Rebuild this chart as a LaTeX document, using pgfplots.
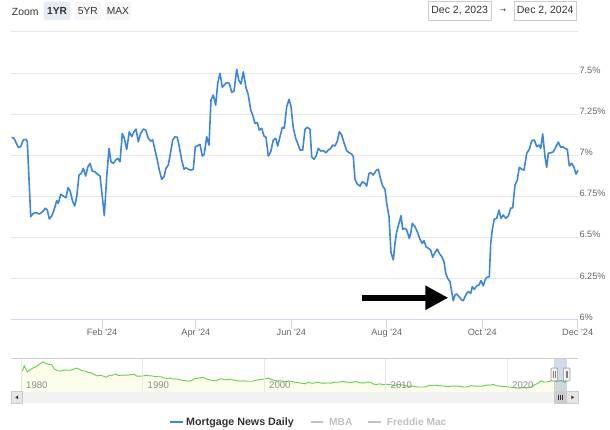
\documentclass[border=0pt]{standalone}
\usepackage{pgfplots}
\pgfplotsset{compat=1.18}
\usepackage{fontspec}
\setmainfont{Liberation Sans}
\newfontfamily\dejavu{DejaVu Sans}
\usetikzlibrary{arrows.meta}
\definecolor{mnd}{RGB}{59,134,226}
\definecolor{gridc}{RGB}{230,230,230}
\definecolor{axisc}{RGB}{204,214,235}
\definecolor{labc}{RGB}{102,102,102}
\definecolor{darkt}{RGB}{51,51,51}
\definecolor{navline}{RGB}{95,210,75}
\definecolor{navfill}{RGB}{251,252,234}
\definecolor{navlab}{RGB}{140,140,140}
\definecolor{selbtn}{RGB}{230,235,245}
\definecolor{btn}{RGB}{247,247,247}
\definecolor{boxc}{RGB}{204,204,204}
\definecolor{maskc}{RGB}{102,133,194}
\definecolor{sbtrack}{RGB}{242,242,242}
\definecolor{sbbtn}{RGB}{230,230,230}
\definecolor{hidden}{RGB}{192,192,192}

\begin{document}
\begin{tikzpicture}[x=1pt,y=1pt]
\useasboundingbox (0,0) rectangle (610,430);
\fill[white] (0,0) rectangle (610,430);

% ---------- main chart ----------
\begin{axis}[
  at={(11pt,110pt)}, anchor=south west,
  scale only axis, width=567.3pt, height=288pt,
  xmin=2.8, xmax=365.4, ymin=6, ymax=7.75,
  axis x line*=bottom, axis y line*=right,
  x axis line style={-, draw=axisc, line width=1pt},
  y axis line style={draw=none},
  xtick={61,121,182,243,304,365},
  xticklabels={Feb \textquotesingle 24,Apr \textquotesingle 24,Jun \textquotesingle 24,Aug \textquotesingle 24,Oct \textquotesingle 24,Dec \textquotesingle 24},
  xtick style={draw=axisc, line width=1pt},
  ytick style={draw=none},
  tick align=outside,
  major tick length=9pt,
  ytick={6,6.25,6.5,6.75,7,7.25,7.5,7.75},
  yticklabels={6\%,6.25\%,6.5\%,6.75\%,7\%,7.25\%,7.5\%,{}},
  ymajorgrids, grid style={draw=gridc, line width=1pt},
  xticklabel style={anchor=north, inner sep=0pt, text=labc, font=\fontsize{9.2}{10}\selectfont},
  yticklabel style={anchor=west, inner sep=0pt, xshift=-8pt, yshift=3pt, text=labc, font=\fontsize{9.2}{10}\selectfont},
]
\addplot[mnd, line width=1.6pt, line join=round] table {
3.26 7.110
4.73 7.104
7.48 7.049
9.01 7.053
10.67 7.094
12.40 7.098
13.23 7.083
15.40 6.628
17.07 6.648
18.79 6.652
20.90 6.644
23.07 6.658
24.73 6.679
26.01 6.668
27.29 6.614
28.83 6.632
30.30 6.668
32.02 6.725
33.04 6.709
34.58 6.764
36.24 6.753
37.97 6.743
39.24 6.804
40.52 6.786
42.25 6.719
43.53 6.693
44.80 6.749
46.27 6.881
47.74 6.891
49.02 6.922
50.56 6.875
51.83 6.928
53.30 6.952
54.77 6.905
56.50 6.901
57.97 6.887
59.70 6.875
61.17 6.749
62.44 6.634
63.98 6.871
65.45 7.043
66.73 6.962
68.20 6.952
69.73 6.972
71.01 6.982
72.48 6.962
73.95 7.134
75.23 7.104
76.76 7.037
78.42 7.144
79.96 7.114
81.43 7.144
82.70 7.160
84.17 7.083
85.71 7.134
87.37 7.160
88.90 7.154
90.57 7.104
92.10 7.087
93.38 7.094
94.85 7.033
96.32 6.972
97.60 6.911
99.13 6.855
100.60 6.871
101.88 6.922
103.35 6.942
104.88 7.022
106.16 7.094
107.63 7.114
109.10 7.110
110.38 7.053
111.91 6.972
113.38 6.916
114.66 6.925
116.13 6.916
117.67 6.911
119.33 6.916
120.61 7.053
122.14 7.059
123.61 7.067
125.08 6.996
126.36 7.008
127.89 7.114
129.36 7.063
130.64 7.337
132.11 7.367
133.64 7.306
134.92 7.438
136.39 7.499
137.86 7.414
139.14 7.428
140.67 7.442
142.34 7.438
143.87 7.383
145.34 7.391
147.07 7.523
148.35 7.458
149.82 7.434
151.29 7.508
153.01 7.411
154.48 7.367
156.01 7.276
157.29 7.245
158.76 7.195
160.23 7.199
161.51 7.154
163.04 7.165
164.51 7.118
165.79 7.110
167.26 6.996
168.80 7.022
170.46 7.094
171.99 7.104
173.27 7.057
174.74 7.114
176.21 7.171
177.49 7.165
179.03 7.296
180.50 7.341
181.78 7.296
183.24 7.165
184.78 7.104
186.44 7.063
187.53 7.033
189.25 7.033
190.72 7.159
192.19 7.171
193.92 7.159
195.00 6.992
196.47 6.976
197.75 6.996
199.22 7.043
200.75 7.027
202.41 7.029
204.14 7.016
205.61 7.033
207.14 7.043
208.42 7.063
209.89 7.057
211.36 7.087
212.64 7.144
214.17 7.124
215.64 7.077
217.37 7.029
219.03 7.016
220.57 7.008
221.59 6.992
222.68 6.855
224.15 6.826
225.87 6.814
227.34 6.840
229.07 6.830
230.15 6.814
231.62 6.891
232.90 6.895
234.37 6.881
236.10 6.907
237.57 6.916
239.10 6.855
240.38 6.814
241.85 6.794
242.94 6.709
244.41 6.628
245.69 6.409
247.16 6.365
248.24 6.466
249.33 6.536
250.80 6.587
252.08 6.634
253.17 6.551
254.64 6.557
255.73 6.547
257.39 6.496
258.47 6.536
259.30 6.587
261.03 6.567
262.50 6.536
264.22 6.490
265.69 6.466
266.78 6.482
268.06 6.445
269.53 6.436
271.06 6.425
272.34 6.381
273.81 6.409
275.28 6.431
276.56 6.405
278.09 6.385
279.56 6.354
280.65 6.284
281.93 6.253
283.40 6.233
284.48 6.172
285.51 6.117
286.60 6.152
287.68 6.158
289.15 6.142
290.88 6.122
291.90 6.117
292.99 6.142
294.08 6.162
295.10 6.172
296.63 6.162
297.65 6.202
298.93 6.187
300.47 6.207
301.94 6.213
303.22 6.239
304.69 6.207
305.77 6.243
306.86 6.259
308.52 6.263
309.41 6.466
310.44 6.551
311.71 6.612
313.25 6.618
314.72 6.668
316.00 6.618
317.47 6.638
319.00 6.618
320.66 6.632
322.20 6.679
323.47 6.682
324.94 6.820
326.41 6.851
327.69 6.928
329.23 6.916
330.70 6.911
332.42 7.013
334.08 7.037
335.62 7.089
337.28 7.094
338.82 7.053
340.29 7.063
341.37 7.043
342.65 7.130
344.12 6.992
345.21 6.928
346.23 7.013
347.76 7.016
349.42 7.022
351.15 7.053
352.62 7.081
354.15 7.049
355.43 7.053
356.90 7.043
358.37 7.037
359.65 6.936
361.18 6.952
362.65 6.928
363.93 6.887
365.40 6.911
};
\draw[black, line width=6pt, -{Triangle[length=23pt,width=23pt]}] (axis cs:227.15,6.135) -- (axis cs:282.3,6.135);
\end{axis}

% ---------- navigator ----------
\fill[sbtrack] (11,27) rectangle (578.3,38.3);
\begin{axis}[
  at={(11pt,38.3pt)}, anchor=south west,
  scale only axis, width=567.3pt, height=32.7pt,
  xmin=1979.16, xmax=2025.85, ymin=0.64, ymax=20,
  axis on top,
  axis line style={draw=none},
  xtick={1980,1990,2000,2010,2020},
  xticklabels={1980,1990,2000,2010,2020},
  xmajorgrids, grid style={draw=gridc, line width=0.8pt},
  ytick=\empty,
  tick style={draw=none},
  major tick length=0pt,
  xticklabel style={anchor=south west, inner sep=0pt, xshift=4.8pt, yshift=3.2pt, text=navlab, font=\fontsize{9.6}{10}\selectfont},
]
\addplot[draw=none, fill=navfill] table {
1980.1 12.9
1980.25 16.0
1980.5 12.3
1980.75 13.7
1981.0 14.8
1981.25 15.6
1981.5 16.8
1981.8 18.4
1982.0 17.4
1982.25 16.9
1982.5 16.6
1982.75 14.0
1983.0 13.1
1983.25 12.8
1983.5 13.4
1983.75 13.4
1984.0 13.3
1984.25 13.8
1984.55 14.6
1984.75 14.1
1985.0 13.1
1985.25 12.9
1985.5 12.1
1985.75 11.9
1986.0 10.9
1986.25 10.0
1986.5 10.3
1986.75 9.9
1987.0 9.2
1987.25 10.3
1987.5 10.4
1987.8 11.1
1988.0 10.2
1988.25 10.4
1988.5 10.5
1988.75 10.4
1989.0 10.7
1989.3 10.9
1989.5 9.9
1989.75 9.8
1990.0 10.0
1990.3 10.3
1990.5 10.1
1990.75 10.0
1991.0 9.6
1991.25 9.5
1991.5 9.5
1991.75 8.8
1992.0 8.5
1992.25 8.7
1992.5 8.1
1992.75 8.2
1993.0 7.8
1993.25 7.4
1993.5 7.2
1993.75 6.9
1994.0 7.1
1994.25 8.3
1994.5 8.5
1994.9 9.2
1995.0 9.1
1995.25 8.2
1995.5 7.6
1995.75 7.4
1996.0 7.0
1996.25 7.9
1996.5 8.3
1996.75 7.7
1997.0 7.8
1997.25 8.1
1997.5 7.5
1997.75 7.2
1998.0 6.9
1998.25 7.1
1998.5 6.9
1998.75 6.8
1999.0 6.8
1999.25 7.2
1999.5 7.7
1999.75 7.9
2000.0 8.2
2000.35 8.6
2000.5 8.1
2000.75 7.6
2001.0 7.0
2001.25 7.1
2001.5 6.9
2001.75 6.7
2002.0 7.0
2002.25 6.8
2002.5 6.3
2002.75 6.0
2003.0 5.8
2003.4 5.3
2003.6 6.3
2003.75 5.9
2004.0 5.6
2004.4 6.3
2004.6 5.9
2004.75 5.7
2005.0 5.7
2005.25 5.8
2005.5 5.7
2005.8 6.3
2006.0 6.2
2006.5 6.7
2006.75 6.3
2007.0 6.2
2007.25 6.2
2007.5 6.7
2007.75 6.3
2008.0 5.8
2008.25 5.9
2008.5 6.4
2008.75 6.1
2009.0 5.1
2009.25 4.9
2009.5 5.3
2009.75 4.9
2010.0 5.0
2010.25 5.0
2010.5 4.6
2010.75 4.3
2011.0 4.8
2011.25 4.8
2011.5 4.5
2011.75 4.0
2012.0 3.9
2012.25 3.9
2012.5 3.5
2012.75 3.4
2013.0 3.4
2013.3 3.5
2013.6 4.5
2013.75 4.3
2014.0 4.5
2014.25 4.3
2014.5 4.1
2014.75 4.0
2015.0 3.7
2015.25 3.7
2015.5 4.0
2015.75 3.9
2016.0 3.9
2016.25 3.6
2016.5 3.4
2016.75 3.5
2017.0 4.2
2017.25 4.0
2017.5 3.9
2017.75 3.9
2018.0 4.0
2018.25 4.5
2018.5 4.5
2018.85 4.9
2019.0 4.5
2019.25 4.1
2019.5 3.8
2019.75 3.7
2020.0 3.6
2020.25 3.3
2020.5 3.0
2020.75 2.9
2021.0 2.7
2021.25 3.1
2021.5 2.9
2021.75 3.1
2022.0 3.4
2022.25 4.7
2022.5 5.5
2022.8 7.1
2023.0 6.4
2023.25 6.4
2023.5 6.8
2023.8 7.8
2024.0 6.7
2024.25 7.0
2024.45 7.2
2024.75 6.2
2024.92 6.9
} \closedcycle;
\addplot[navline, line width=0.9pt] table {
1980.1 12.9
1980.25 16.0
1980.5 12.3
1980.75 13.7
1981.0 14.8
1981.25 15.6
1981.5 16.8
1981.8 18.4
1982.0 17.4
1982.25 16.9
1982.5 16.6
1982.75 14.0
1983.0 13.1
1983.25 12.8
1983.5 13.4
1983.75 13.4
1984.0 13.3
1984.25 13.8
1984.55 14.6
1984.75 14.1
1985.0 13.1
1985.25 12.9
1985.5 12.1
1985.75 11.9
1986.0 10.9
1986.25 10.0
1986.5 10.3
1986.75 9.9
1987.0 9.2
1987.25 10.3
1987.5 10.4
1987.8 11.1
1988.0 10.2
1988.25 10.4
1988.5 10.5
1988.75 10.4
1989.0 10.7
1989.3 10.9
1989.5 9.9
1989.75 9.8
1990.0 10.0
1990.3 10.3
1990.5 10.1
1990.75 10.0
1991.0 9.6
1991.25 9.5
1991.5 9.5
1991.75 8.8
1992.0 8.5
1992.25 8.7
1992.5 8.1
1992.75 8.2
1993.0 7.8
1993.25 7.4
1993.5 7.2
1993.75 6.9
1994.0 7.1
1994.25 8.3
1994.5 8.5
1994.9 9.2
1995.0 9.1
1995.25 8.2
1995.5 7.6
1995.75 7.4
1996.0 7.0
1996.25 7.9
1996.5 8.3
1996.75 7.7
1997.0 7.8
1997.25 8.1
1997.5 7.5
1997.75 7.2
1998.0 6.9
1998.25 7.1
1998.5 6.9
1998.75 6.8
1999.0 6.8
1999.25 7.2
1999.5 7.7
1999.75 7.9
2000.0 8.2
2000.35 8.6
2000.5 8.1
2000.75 7.6
2001.0 7.0
2001.25 7.1
2001.5 6.9
2001.75 6.7
2002.0 7.0
2002.25 6.8
2002.5 6.3
2002.75 6.0
2003.0 5.8
2003.4 5.3
2003.6 6.3
2003.75 5.9
2004.0 5.6
2004.4 6.3
2004.6 5.9
2004.75 5.7
2005.0 5.7
2005.25 5.8
2005.5 5.7
2005.8 6.3
2006.0 6.2
2006.5 6.7
2006.75 6.3
2007.0 6.2
2007.25 6.2
2007.5 6.7
2007.75 6.3
2008.0 5.8
2008.25 5.9
2008.5 6.4
2008.75 6.1
2009.0 5.1
2009.25 4.9
2009.5 5.3
2009.75 4.9
2010.0 5.0
2010.25 5.0
2010.5 4.6
2010.75 4.3
2011.0 4.8
2011.25 4.8
2011.5 4.5
2011.75 4.0
2012.0 3.9
2012.25 3.9
2012.5 3.5
2012.75 3.4
2013.0 3.4
2013.3 3.5
2013.6 4.5
2013.75 4.3
2014.0 4.5
2014.25 4.3
2014.5 4.1
2014.75 4.0
2015.0 3.7
2015.25 3.7
2015.5 4.0
2015.75 3.9
2016.0 3.9
2016.25 3.6
2016.5 3.4
2016.75 3.5
2017.0 4.2
2017.25 4.0
2017.5 3.9
2017.75 3.9
2018.0 4.0
2018.25 4.5
2018.5 4.5
2018.85 4.9
2019.0 4.5
2019.25 4.1
2019.5 3.8
2019.75 3.7
2020.0 3.6
2020.25 3.3
2020.5 3.0
2020.75 2.9
2021.0 2.7
2021.25 3.1
2021.5 2.9
2021.75 3.1
2022.0 3.4
2022.25 4.7
2022.5 5.5
2022.8 7.1
2023.0 6.4
2023.25 6.4
2023.5 6.8
2023.8 7.8
2024.0 6.7
2024.25 7.0
2024.45 7.2
2024.75 6.2
2024.92 6.9
};
\end{axis}
% navigator decorations
\draw[boxc, line width=1pt] (11,71) -- (578.3,71);
\fill[maskc, opacity=0.3] (554.3,38.3) rectangle (566.7,71);
\foreach \hx in {554.3,566.7} {
  \filldraw[fill=sbtrack, draw=gray!80, line width=0.6pt, rounded corners=1pt] (\hx-3.3,49) rectangle (\hx+3.3,62);
  \draw[gray, line width=0.5pt] (\hx-0.9,52) -- (\hx-0.9,59) (\hx+0.9,52) -- (\hx+0.9,59);
}
% scrollbar
\filldraw[fill=sbbtn, draw=boxc, line width=0.5pt] (11,27) rectangle (22.3,38.3);
\filldraw[fill=sbbtn, draw=boxc, line width=0.5pt] (566.7,27) rectangle (578.3,38.3);
\filldraw[fill=boxc, draw=boxc, line width=0.5pt] (554.3,27) rectangle (566.7,38.3);
\draw[darkt, line width=0.5pt] (558.5,30) -- (558.5,35.3) (560.5,30) -- (560.5,35.3) (562.5,30) -- (562.5,35.3);
\fill[darkt] (15.3,32.65) -- (18,34.5) -- (18,30.8) -- cycle;
\fill[darkt] (574,32.65) -- (571.3,34.5) -- (571.3,30.8) -- cycle;

% ---------- legend ----------
\draw[mnd, line width=2pt] (170,8.3) -- (182.7,8.3);
\node[anchor=base west, inner sep=0pt, text=darkt, font=\fontsize{10.7}{12}\selectfont\bfseries] at (186,4.5) {Mortgage News Daily};
\draw[hidden, line width=2pt] (310.7,8.3) -- (323.3,8.3);
\node[anchor=base west, inner sep=0pt, text=hidden, font=\fontsize{10.2}{12}\selectfont\bfseries] at (329,4.5) {MBA};
\draw[hidden, line width=2pt] (368,8.3) -- (381,8.3);
\node[anchor=base west, inner sep=0pt, text=hidden, font=\fontsize{10.2}{12}\selectfont\bfseries] at (386.7,4.5) {Freddie Mac};

% ---------- range selector ----------
\node[anchor=west, inner sep=0pt, text=darkt, font=\fontsize{10.4}{12}\selectfont] at (11.7,418.3) {Zoom};
\fill[selbtn, rounded corners=2pt] (43.7,410) rectangle (70.3,428.3);
\fill[btn, rounded corners=2pt] (74.7,410) rectangle (101,428.3);
\fill[btn, rounded corners=2pt] (104.7,410) rectangle (131,428.3);
\node[inner sep=0pt, text=darkt, font=\fontsize{10.2}{12}\selectfont\bfseries] at (57,419.2) {1YR};
\node[inner sep=0pt, text=darkt, font=\fontsize{10.2}{12}\selectfont] at (87.85,419.2) {5YR};
\node[inner sep=0pt, text=darkt, font=\fontsize{10.2}{12}\selectfont] at (117.85,419.2) {MAX};
\draw[boxc, line width=0.8pt] (428.3,409.3) rectangle (491,429);
\draw[boxc, line width=0.8pt] (514.3,409.3) rectangle (576,429);
\node[inner sep=0pt, text=darkt, font=\fontsize{10.5}{12}\selectfont] at (459.7,419.2) {Dec 2, 2023};
\node[inner sep=0pt, text=darkt, font=\fontsize{10.5}{12}\selectfont] at (545.2,419.2) {Dec 2, 2024};
\node[inner sep=0pt, text=darkt, font=\dejavu\fontsize{7}{8}\selectfont] at (503,419.5) {→};
\end{tikzpicture}
\end{document}
